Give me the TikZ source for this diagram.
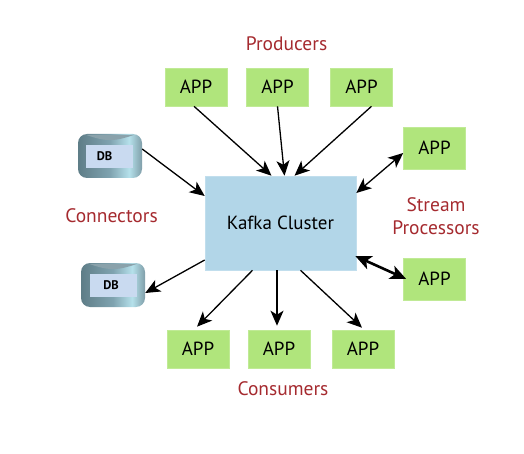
\documentclass[tikz,border=0pt]{standalone}
\usepackage{fontspec}
\setmainfont{PT Sans}
\usetikzlibrary{arrows.meta,calc}
\definecolor{appgreen}{HTML}{B0E57C}
\definecolor{kafkablue}{HTML}{B2D6E8}
\definecolor{titlered}{HTML}{A52A2F}
\definecolor{dbinner}{HTML}{C9DAF0}
\definecolor{dbrim}{HTML}{8AA2AB}
\pgfdeclarehorizontalshading{dbshade}{100bp}{
  color(0bp)=(black!0!white);
  rgb(0bp)=(0.37,0.49,0.53);
  rgb(25bp)=(0.37,0.49,0.53);
  rgb(50bp)=(0.50,0.64,0.69);
  rgb(65bp)=(0.71,0.88,0.92);
  rgb(75bp)=(0.50,0.62,0.66);
  rgb(100bp)=(0.50,0.62,0.66)}
\tikzset{
  x=1pt,y=-1pt,
  appbox/.style={fill=appgreen,draw=appgreen!80!white,line width=.6pt,minimum width=62pt,minimum height=38pt,inner sep=0pt,font=\fontsize{19}{21}\selectfont,text=black},
  kafka/.style={fill=kafkablue,draw=kafkablue!80!white,line width=.6pt,minimum width=151pt,minimum height=94pt,inner sep=0pt,font=\fontsize{19}{21}\selectfont,text=black},
  grouplabel/.style={text=titlered,font=\fontsize{19.5}{23}\selectfont,align=center,inner sep=0pt},
  dbbody/.style={minimum width=64pt,minimum height=44pt,inner sep=0pt,rounded corners=9pt,shading=dbshade},
  dbface/.style={fill=dbinner,minimum width=47pt,minimum height=23pt,inner sep=0pt,font=\bfseries\fontsize{12.5}{14}\selectfont,text=black},
  dbrimline/.style={fill=dbrim,draw=none},
  flow/.style={draw=black,line width=1.3pt,-{Stealth[length=15pt,width=13pt,inset=4pt]}},
  flowtwo/.style={draw=black,line width=1.3pt,{Stealth[length=15pt,width=13pt,inset=4pt]}-{Stealth[length=15pt,width=13pt,inset=4pt]}},
  flowbold/.style={draw=black,line width=2.6pt,{Stealth[length=16pt,width=14pt,inset=4pt]}-{Stealth[length=16pt,width=14pt,inset=4pt]}},
}
\begin{document}
\begin{tikzpicture}
\useasboundingbox (0,0) rectangle (524,454);
\node[kafka] (k) at (280.5,223) {Kafka Cluster};
\node[appbox] (p1) at (196,87) {APP};
\node[appbox] (p2) at (277.5,87) {APP};
\node[appbox] (p3) at (361.5,87) {APP};
\node[appbox,minimum height=42pt] (s1) at (434.5,148) {APP};
\node[appbox,minimum height=42pt] (s2) at (434.5,279) {APP};
\node[appbox] (c1) at (198,349) {APP};
\node[appbox] (c2) at (279,349) {APP};
\node[appbox] (c3) at (363,349) {APP};
\node[dbbody] (d1) at (110,156) {};
\path[dbrimline] ([xshift=8pt,yshift=-1pt]d1.north west) .. controls ([xshift=-4pt,yshift=-8pt]d1.north) and ([xshift=4pt,yshift=-8pt]d1.north) .. ([xshift=-8pt,yshift=-1pt]d1.north east) -- cycle;
\node[dbface,xshift=-.5pt,yshift=-.5pt] (d1f) at (d1) {\hspace*{-10pt}DB};
\node[dbbody] (d2) at (113,285) {};
\path[dbrimline] ([xshift=8pt,yshift=-1pt]d2.north west) .. controls ([xshift=-4pt,yshift=-8pt]d2.north) and ([xshift=4pt,yshift=-8pt]d2.north) .. ([xshift=-8pt,yshift=-1pt]d2.north east) -- cycle;
\node[dbface,xshift=.5pt,yshift=-.5pt] (d2f) at (d2) {\hspace*{-5pt}DB};
\node[grouplabel] (lp) at (286.5,44) {Producers};
\node[grouplabel] (lc) at (111.5,216) {Connectors};
\node[grouplabel] (ls) at (436,216) {Stream\\Processors};
\node[grouplabel] (lk) at (283,389) {Consumers};
\draw[flow] ([xshift=-2pt]p1.south) -- ([xshift=-9pt]k.north);
\draw[flow] (p2.south) -- ([xshift=4pt]k.north);
\draw[flow] ([xshift=10pt]p3.south) -- ([xshift=14pt]k.north);
\draw[flow] ([yshift=7pt]d1.east) -- ([yshift=27pt]k.west);
\draw[flow] ([yshift=-37pt]k.west) -- ([yshift=-8pt]d2.east);
\draw[flowtwo] ([yshift=30pt]k.east) -- ([yshift=-5pt]s1.west);
\draw[flowbold] ([yshift=-33pt,xshift=-1pt]k.east) -- ([xshift=3pt]s2.west);
\draw[flow] ([xshift=-28pt]k.south) -- ([xshift=-1pt,yshift=3pt]c1.north);
\draw[flow] ([xshift=-3.5pt]k.south) -- ([xshift=-2pt,yshift=4pt]c2.north);
\draw[flow] ([xshift=20pt]k.south) -- ([xshift=-1pt,yshift=2pt]c3.north);
\end{tikzpicture}
\end{document}
